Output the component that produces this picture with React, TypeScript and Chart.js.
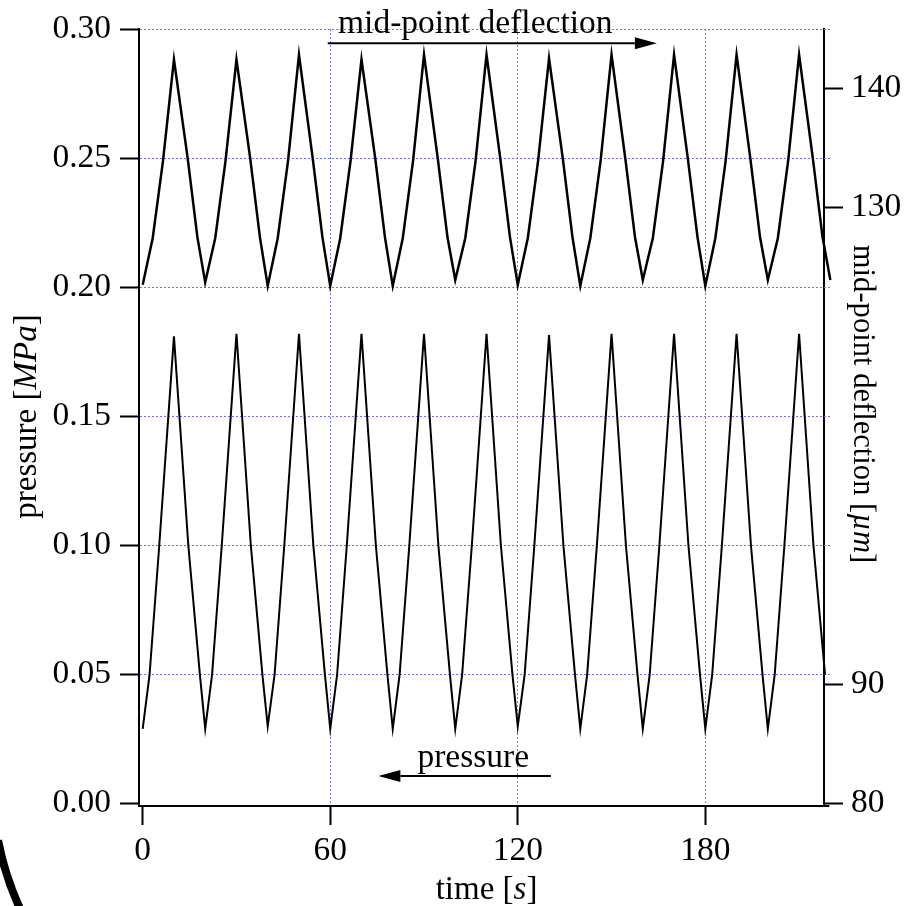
import React, { useEffect, useRef } from 'react';
import { Chart, registerables } from 'chart.js';

Chart.register(...registerables);

// ---- data ----
const PRESSURE_T = [
  0, 2.2, 5.3, 10, 14.6, 18.3,
  20, 22.2, 25.3, 30, 34.6, 38.3,
  40, 42.2, 45.3, 50, 54.6, 58.3,
  60, 62.2, 65.3, 70, 74.6, 78.3,
  80, 82.2, 85.3, 90, 94.6, 98.3,
  100, 102.2, 105.3, 110, 114.6, 118.3,
  120, 122.2, 125.3, 130, 134.6, 138.3,
  140, 142.2, 145.3, 150, 154.6, 158.3,
  160, 162.2, 165.3, 170, 174.6, 178.3,
  180, 182.2, 185.3, 190, 194.6, 198.3,
  200, 202.2, 205.3, 210, 214.6, 218.3,
  220,
];
const PRESSURE_V = [
  0.029, 0.05, 0.1, 0.181, 0.1, 0.05,
  0.029, 0.05, 0.1, 0.182, 0.1, 0.05,
  0.030, 0.05, 0.1, 0.182, 0.1, 0.05,
  0.029, 0.05, 0.1, 0.182, 0.1, 0.05,
  0.029, 0.05, 0.1, 0.182, 0.1, 0.05,
  0.029, 0.05, 0.1, 0.182, 0.1, 0.05,
  0.030, 0.05, 0.1, 0.1815, 0.1, 0.05,
  0.029, 0.05, 0.1, 0.182, 0.1, 0.05,
  0.029, 0.05, 0.1, 0.182, 0.1, 0.05,
  0.029, 0.05, 0.1, 0.182, 0.1, 0.05,
  0.029, 0.05, 0.1, 0.182, 0.1, 0.05,
  0.029,
];
const DEFLECTION_T = [
  0, 3.2, 6.5, 10, 14.4, 17.5,
  20, 23.2, 26.5, 30, 34.4, 37.5,
  40, 43.2, 46.5, 50, 54.4, 57.5,
  60, 63.2, 66.5, 70, 74.4, 77.5,
  80, 83.2, 86.5, 90, 94.4, 97.5,
  100, 103.2, 106.5, 110, 114.4, 117.5,
  120, 123.2, 126.5, 130, 134.4, 137.5,
  140, 143.2, 146.5, 150, 154.4, 157.5,
  160, 163.2, 166.5, 170, 174.4, 177.5,
  180, 183.2, 186.5, 190, 194.4, 197.5,
  200, 203.2, 206.5, 210, 214.4, 217.5,
  220,
];
const DEFLECTION_V = [
  123.5, 127.4, 133.9, 142.4, 134.1, 127.5,
  123.7, 127.4, 133.9, 142.4, 134.1, 127.5,
  123.4, 127.4, 133.9, 142.8, 134.1, 127.5,
  123.4, 127.4, 133.9, 142.4, 134.1, 127.5,
  123.4, 127.4, 133.9, 142.8, 134.1, 127.5,
  123.9, 127.4, 133.9, 142.8, 134.1, 127.5,
  123.5, 127.4, 133.9, 142.5, 134.1, 127.5,
  123.4, 127.4, 133.9, 142.8, 134.1, 127.5,
  123.9, 127.4, 133.9, 142.8, 134.1, 127.5,
  123.4, 127.4, 133.9, 142.8, 134.1, 127.5,
  123.9, 127.4, 133.9, 142.8, 134.1, 127.5,
  123.9,
];
const X_TICKS = [0, 60, 120, 180];
const P_TICKS = [0, 0.05, 0.1, 0.15, 0.2, 0.25, 0.3];
const D_TICKS = [80, 90, 130, 140];
const X_END = 220;

// annotation anchors in data coordinates (x: time, y: pressure axis)
const NOTE_TOP = { text: 'mid-point deflection', tx: 62.5, ty: 0.2983, from: 59.2, to: 164.5, ay: 0.2945 };
const NOTE_BOTTOM = { text: 'pressure', tx: 87.9, ty: 0.0143, from: 130.6, to: 75.4, ay: 0.0107 };

const FONT = '"Liberation Serif", "Times New Roman", serif';
const GRID = 'rgb(110,110,255)';
const W = 907;
const H = 906;

type Part = { text: string; italic?: boolean };

function drawRich(ctx: CanvasRenderingContext2D, parts: Part[], size: number, x: number, y: number, rot: number) {
  ctx.save();
  ctx.translate(x, y);
  ctx.rotate(rot);
  ctx.textBaseline = 'alphabetic';
  ctx.textAlign = 'left';
  ctx.fillStyle = '#000';
  const widths = parts.map((p) => {
    ctx.font = `${p.italic ? 'italic ' : ''}${size}px ${FONT}`;
    return ctx.measureText(p.text).width;
  });
  const total = widths.reduce((a, b) => a + b, 0);
  let cx = -total / 2;
  parts.forEach((p, i) => {
    ctx.font = `${p.italic ? 'italic ' : ''}${size}px ${FONT}`;
    ctx.fillText(p.text, cx, 0);
    cx += widths[i];
  });
  ctx.restore();
}

function drawArrow(ctx: CanvasRenderingContext2D, x1: number, y: number, x2: number) {
  const dir = Math.sign(x2 - x1);
  const len = 22;
  const half = 6;
  ctx.save();
  ctx.strokeStyle = '#000';
  ctx.fillStyle = '#000';
  ctx.lineWidth = 2;
  ctx.beginPath();
  ctx.moveTo(x1, y);
  ctx.lineTo(x2 - dir * len, y);
  ctx.stroke();
  ctx.beginPath();
  ctx.moveTo(x2, y);
  ctx.lineTo(x2 - dir * len, y - half);
  ctx.lineTo(x2 - dir * len, y + half);
  ctx.closePath();
  ctx.fill();
  ctx.restore();
}

const decorPlugin = {
  id: 'decor',
  beforeDatasetsDraw(chart: any) {
    const { ctx, chartArea } = chart;
    const xs = chart.scales.x;
    const ys = chart.scales.y;
    const xEnd = xs.getPixelForValue(X_END);
    ctx.save();
    ctx.strokeStyle = GRID;
    ctx.lineWidth = 1;
    ctx.setLineDash([2, 2]);
    P_TICKS.filter((v) => v > 0).forEach((v) => {
      const py = Math.round(ys.getPixelForValue(v) - 0.5) + 0.5;
      ctx.beginPath();
      ctx.moveTo(chartArea.right, py);
      ctx.lineTo(xEnd, py);
      ctx.stroke();
    });
    ctx.setLineDash([]);
    ctx.strokeStyle = '#000';
    ctx.lineWidth = 2;
    ctx.beginPath();
    ctx.moveTo(chartArea.right, Math.round(xs.top));
    ctx.lineTo(xEnd - 1, Math.round(xs.top));
    ctx.stroke();
    ctx.restore();
  },
  afterDraw(chart: any) {
    const { ctx, chartArea } = chart;
    const xs = chart.scales.x;
    const ys = chart.scales.y;
    // axis titles
    drawRich(ctx, [{ text: 'pressure [' }, { text: 'MPa', italic: true }, { text: ']' }], 33, 36, (chartArea.top + chartArea.bottom) / 2 - 1, -Math.PI / 2);
    drawRich(ctx, [{ text: 'time [' }, { text: 's', italic: true }, { text: ']' }], 33, xs.getPixelForValue(110), 899, 0);
    drawRich(ctx, [{ text: 'mid-point deflection [' }, { text: 'µm', italic: true }, { text: ']' }], 30.6, 854, 404, Math.PI / 2);

    // annotations
    ctx.save();
    ctx.fillStyle = '#000';
    ctx.font = `33.5px ${FONT}`;
    ctx.textBaseline = 'alphabetic';
    ctx.textAlign = 'left';
    [NOTE_TOP, NOTE_BOTTOM].forEach((n) => {
      ctx.fillText(n.text, xs.getPixelForValue(n.tx), ys.getPixelForValue(n.ty));
    });
    ctx.restore();
    [NOTE_TOP, NOTE_BOTTOM].forEach((n) => {
      drawArrow(ctx, xs.getPixelForValue(n.from), ys.getPixelForValue(n.ay), xs.getPixelForValue(n.to));
    });

    // decorative dark arc in the lower-left corner
    ctx.save();
    ctx.strokeStyle = '#000';
    ctx.lineWidth = 8;
    ctx.beginPath();
    ctx.arc(293.5, 783, 301, 2.6, 2.95);
    ctx.stroke();
    ctx.restore();
  },
};

const tickFont = { family: FONT, size: 33.5 };

export default function App() {
  const ref = useRef<HTMLCanvasElement | null>(null);

  useEffect(() => {
    if (!ref.current) return;
    const chart = new Chart(ref.current, {
      type: 'line',
      data: {
        datasets: [
          {
            label: 'pressure',
            data: PRESSURE_T.map((t, i) => ({ x: t, y: PRESSURE_V[i] })),
            yAxisID: 'y',
            borderColor: '#000',
            borderWidth: 2,
            pointRadius: 0,
            tension: 0,
            clip: false as any,
          },
          {
            label: 'mid-point deflection',
            data: DEFLECTION_T.map((t, i) => ({ x: t, y: DEFLECTION_V[i] })),
            yAxisID: 'y2',
            borderColor: '#000',
            borderWidth: 2.5,
            pointRadius: 0,
            tension: 0,
            clip: false as any,
          },
        ],
      },
      options: {
        responsive: false,
        animation: false,
        devicePixelRatio: 1,
        events: [],
        layout: { padding: { top: 29, left: 0, right: 0, bottom: 0 } },
        plugins: { legend: { display: false }, tooltip: { enabled: false } },
        scales: {
          x: {
            type: 'linear',
            position: 'bottom',
            min: -1.18,
            max: 217.97,
            afterBuildTicks: (s: any) => { s.ticks = X_TICKS.map((v) => ({ value: v })); },
            afterFit: (s: any) => { s.height = H - 806; },
            ticks: { font: tickFont, color: '#000', padding: 6, callback: (v: any) => String(v), maxRotation: 0 },
            grid: {
              color: (c: any) => (c.tick && c.tick.value === 0 ? 'rgba(0,0,0,0)' : GRID),
              lineWidth: 1,
              tickLength: 19,
              tickColor: '#000',
              tickWidth: 2,
            },
            border: { display: true, color: '#000', width: 2, dash: [2, 2] },
          },
          y: {
            type: 'linear',
            position: 'left',
            min: -0.00089,
            max: 0.3,
            afterBuildTicks: (s: any) => { s.ticks = P_TICKS.map((v) => ({ value: v })); },
            afterFit: (s: any) => { s.width = 139; },
            ticks: { font: tickFont, color: '#000', padding: 9, callback: (v: any) => Number(v).toFixed(2) },
            grid: {
              color: (c: any) => (c.tick && c.tick.value === 0 ? 'rgba(0,0,0,0)' : GRID),
              lineWidth: 1,
              tickLength: 19,
              tickColor: '#000',
              tickWidth: 2,
            },
            border: { display: true, color: '#000', width: 2, dash: [2, 2] },
          },
          y2: {
            type: 'linear',
            position: 'right',
            min: 79.77,
            max: 144.95,
            afterBuildTicks: (s: any) => { s.ticks = D_TICKS.map((v) => ({ value: v })); },
            afterFit: (s: any) => { s.width = W - 824; },
            ticks: { font: tickFont, color: '#000', padding: 8, callback: (v: any) => String(v) },
            grid: {
              drawOnChartArea: false,
              tickLength: 19,
              tickColor: '#000',
              tickWidth: 2,
            },
            border: { display: true, color: '#000', width: 2 },
          },
        },
      } as any,
      plugins: [decorPlugin],
    });
    return () => chart.destroy();
  }, []);

  return (
    <div style={{ position: 'fixed', left: 0, top: 0, width: W, height: H, background: '#fff' }}>
      <canvas ref={ref} width={W} height={H} style={{ display: 'block' }} />
    </div>
  );
}
